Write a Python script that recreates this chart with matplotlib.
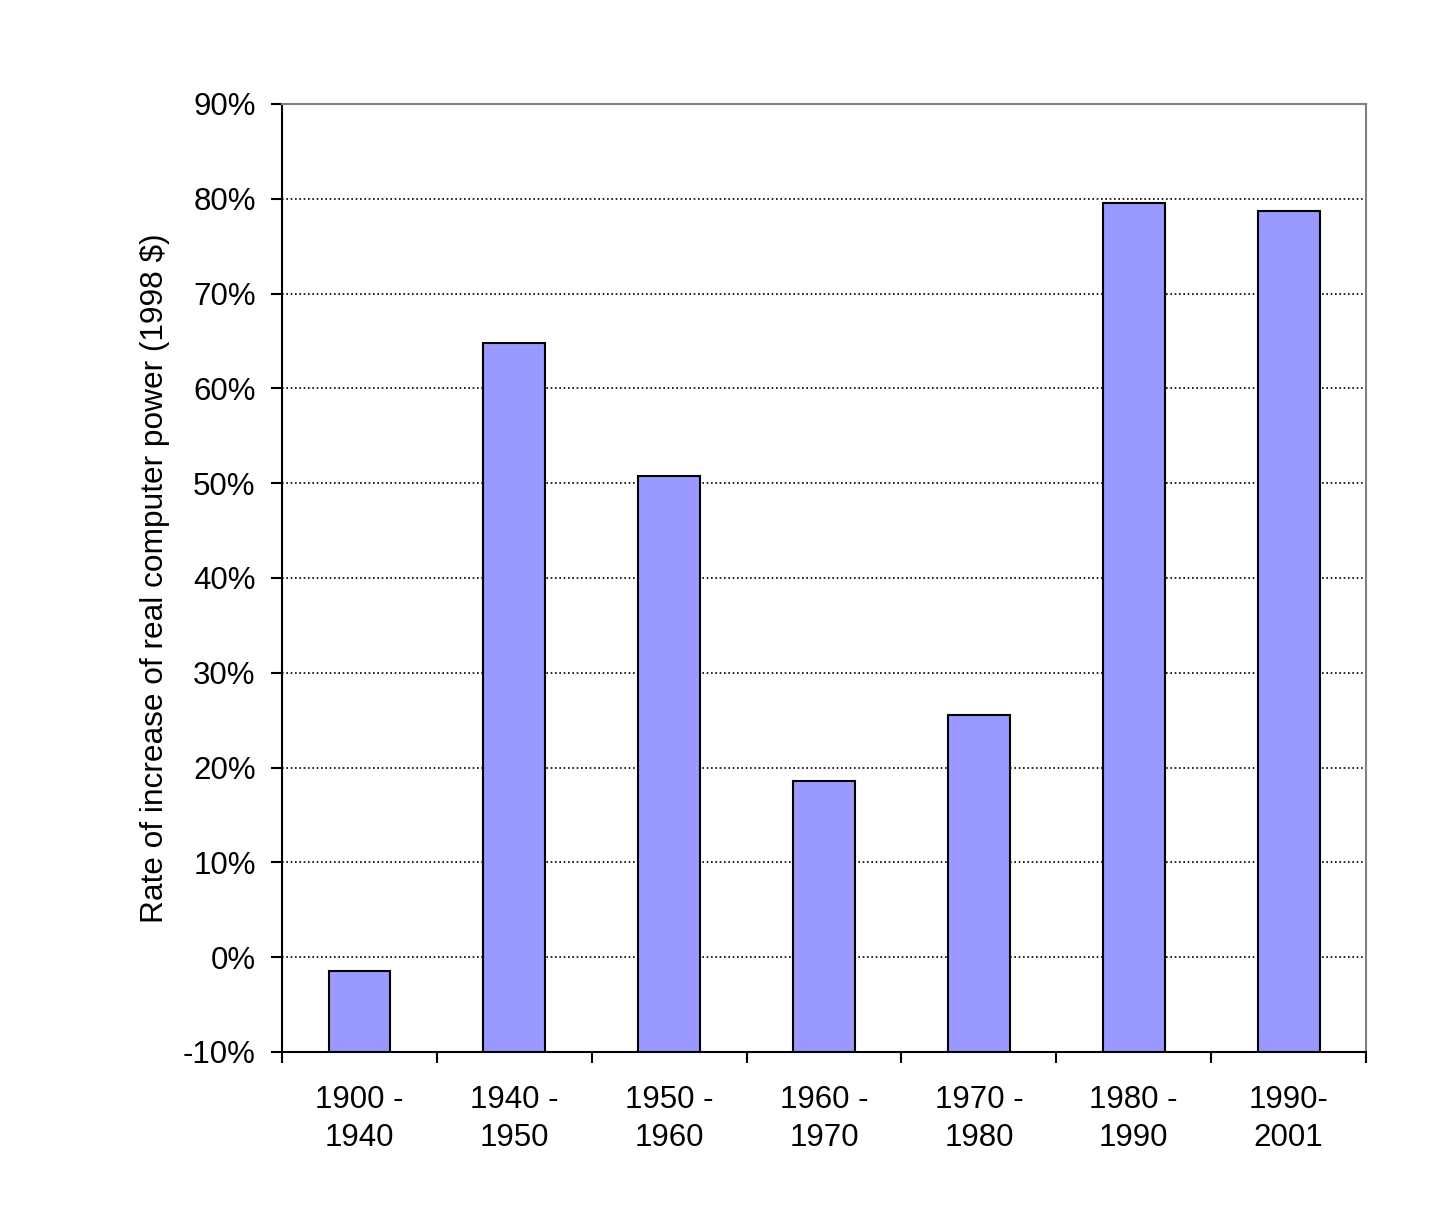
import matplotlib.pyplot as plt
from matplotlib.ticker import FuncFormatter

plt.rcParams['font.family'] = ['Liberation Sans', 'DejaVu Sans']

periods = ["1900 -\n1940", "1940 -\n1950", "1950 -\n1960", "1960 -\n1970",
           "1970 -\n1980", "1980 -\n1990", "1990-\n2001"]
rates = [-1.5, 64.8, 50.8, 18.6, 25.5, 79.6, 78.7]
y_ticks = [-10, 0, 10, 20, 30, 40, 50, 60, 70, 80, 90]

ymin, ymax = -10, 90

fig = plt.figure(figsize=(14.42, 12.10), dpi=100)
ax = fig.add_axes([0.1956, 0.1306, 0.7517, 0.7835])

x = list(range(len(periods)))
# Excel-style bars: drawn up from the axis minimum
ax.bar(x, [r - ymin for r in rates], bottom=ymin, width=0.4,
       color='#9999FF', edgecolor='black', linewidth=1.5, zorder=3)

ax.set_ylim(ymin, ymax)
ax.set_xlim(-0.5, len(periods) - 0.5)
ax.set_yticks(y_ticks)
ax.yaxis.set_major_formatter(FuncFormatter(lambda v, p: f"{v:.0f}%"))

for t in y_ticks[1:-1]:
    ax.axhline(t, color='black', linestyle=(0, (1, 1.6)), linewidth=1.2, zorder=1)

# ticks on category boundaries, labels centered
ax.set_xticks([i + 0.5 for i in range(-1, len(periods))])
ax.set_xticklabels([])
ax.set_xticks(x, minor=True)
ax.set_xticklabels(periods, minor=True, fontsize=22.5, linespacing=1.35)
ax.tick_params(axis='x', which='minor', length=0, pad=24)
ax.tick_params(axis='x', which='major', direction='out', length=8, width=1.5)
ax.tick_params(axis='y', direction='out', length=8, width=1.5, labelsize=22.5, pad=11)

for s in ['top', 'right']:
    ax.spines[s].set_color('#808080')
    ax.spines[s].set_linewidth(1.5)
for s in ['left', 'bottom']:
    ax.spines[s].set_color('black')
    ax.spines[s].set_linewidth(1.5)

ax.set_ylabel("Rate of increase of real computer power (1998 $)", fontsize=22.8, labelpad=9.5)

fig.savefig("out.png", dpi=100, facecolor='white')
